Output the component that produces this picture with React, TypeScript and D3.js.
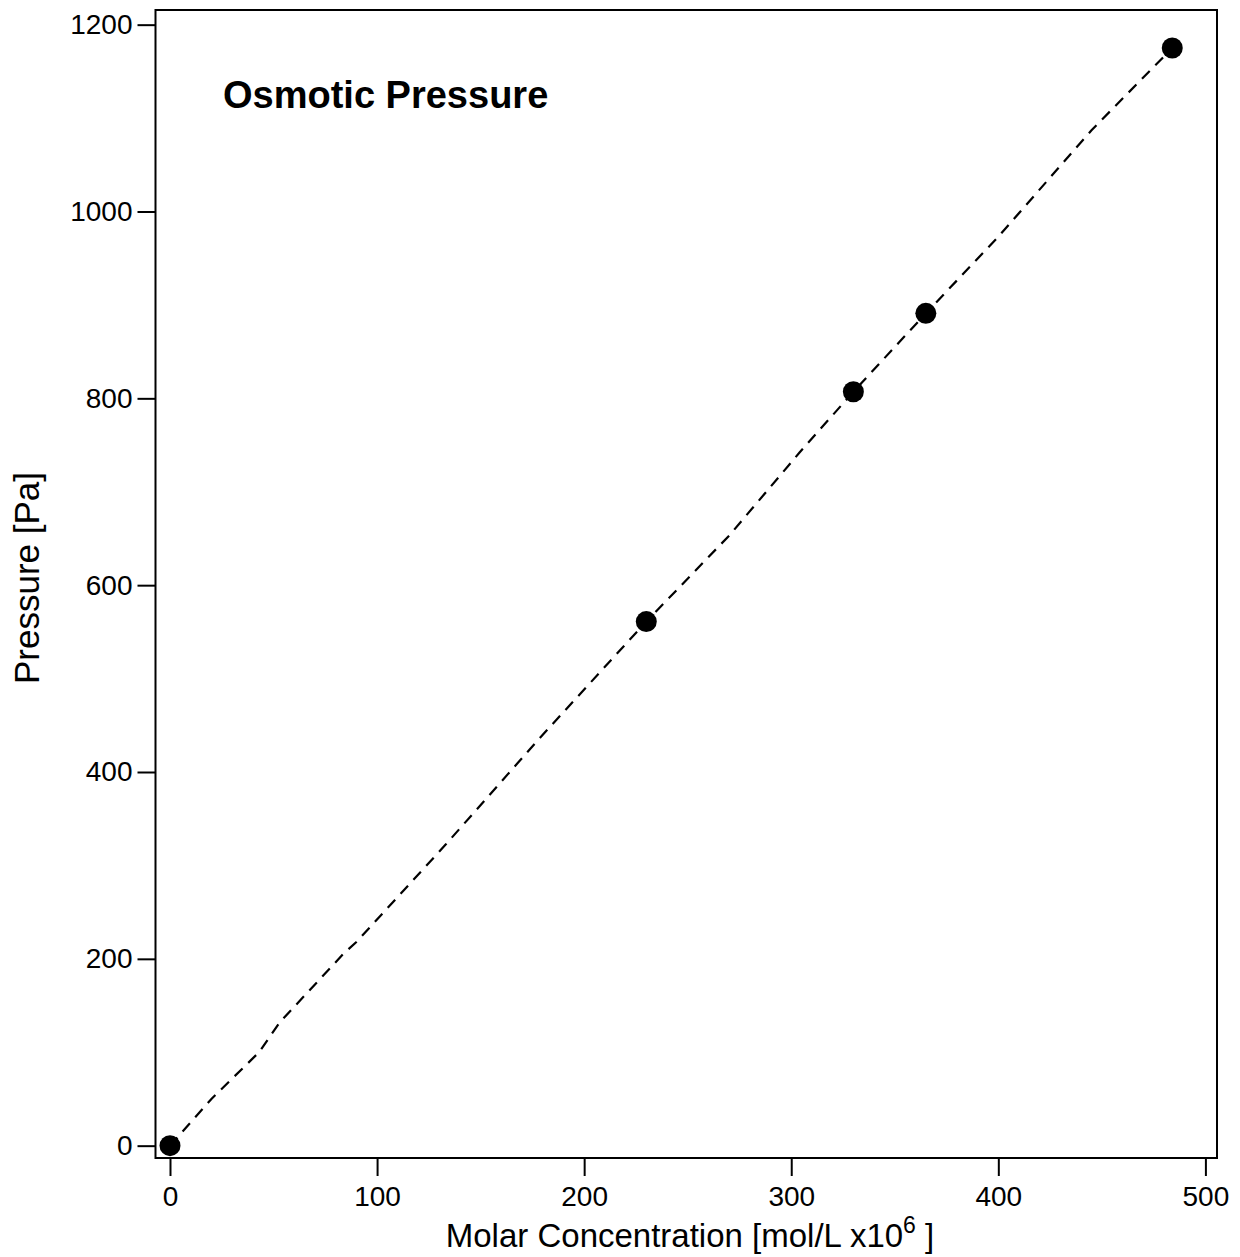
import React, { useRef, useEffect } from "react";
import * as d3 from "d3";

// measured concentrations [mol/L x10^6] and pressures [Pa]
const concentration = [0, 230, 330, 365, 484];
const pressure = [0, 561, 807, 891, 1175];

// dashed fit trace
const fitX = [0, 20, 43, 53, 84, 90, 133, 178, 230, 270, 304, 330, 365, 400, 445, 484];
const fitY = [0, 50, 100, 132, 206, 218, 322, 435, 561, 653, 742, 807, 891, 973, 1087, 1175];

const xTicks = [0, 100, 200, 300, 400, 500];
const yTicks = [0, 200, 400, 600, 800, 1000, 1200];

const FONT = "'Liberation Sans', Arial, Helvetica, sans-serif";

const App = () => {
  const svgRef = useRef<SVGSVGElement>(null);

  useEffect(() => {
    document.body.style.margin = "0";
    const width = 1240;
    const height = 1257;
    const left = 155.5, right = 1217, top = 10, bottom = 1158;

    const svg = d3.select(svgRef.current).attr("width", width).attr("height", height);
    svg.selectAll("*").remove();

    const x = d3.scaleLinear().domain([-7, 505.6]).range([left, right]);
    const y = d3.scaleLinear().domain([-13.2, 1215.7]).range([bottom, top]);

    // frame
    svg
      .append("rect")
      .attr("x", left)
      .attr("y", top)
      .attr("width", right - left)
      .attr("height", bottom - top)
      .attr("fill", "none")
      .attr("stroke", "#000")
      .attr("stroke-width", 2);

    // x axis
    const xAxis = svg
      .append("g")
      .attr("transform", `translate(0,${bottom})`)
      .call(d3.axisBottom(x).tickValues(xTicks).tickSize(18).tickPadding(10).tickFormat(d3.format("d")));
    xAxis.select(".domain").remove();
    xAxis.selectAll("line").attr("stroke", "#000").attr("stroke-width", 2);
    xAxis.selectAll("text").attr("font-family", FONT).attr("font-size", 28).attr("fill", "#000");

    // y axis
    const yAxis = svg
      .append("g")
      .attr("transform", `translate(${left},0)`)
      .call(d3.axisLeft(y).tickValues(yTicks).tickSize(18).tickPadding(5).tickFormat(d3.format("d")));
    yAxis.select(".domain").remove();
    yAxis.selectAll("line").attr("stroke", "#000").attr("stroke-width", 2);
    yAxis.selectAll("text").attr("font-family", FONT).attr("font-size", 28).attr("fill", "#000");

    // dashed fit line
    const line = d3
      .line<number>()
      .x((d) => x(d))
      .y((d, i) => y(fitY[i]));
    svg
      .append("path")
      .datum(fitX)
      .attr("d", line)
      .attr("fill", "none")
      .attr("stroke", "#000")
      .attr("stroke-width", 2.2)
      .attr("stroke-dasharray", "11,8");

    // data points
    svg
      .selectAll(".pt")
      .data(concentration)
      .enter()
      .append("circle")
      .attr("class", "pt")
      .attr("cx", (d) => x(d))
      .attr("cy", (d, i) => y(pressure[i]))
      .attr("r", 10.5)
      .attr("fill", "#000");

    // title inside plot
    svg
      .append("text")
      .attr("x", 223)
      .attr("y", 108)
      .attr("font-family", FONT)
      .attr("font-weight", "bold")
      .attr("font-size", 38)
      .text("Osmotic Pressure");

    // x title with superscript
    const xt = svg
      .append("text")
      .attr("x", 690)
      .attr("y", 1247)
      .attr("text-anchor", "middle")
      .attr("font-family", FONT)
      .attr("font-size", 33);
    xt.append("tspan").text("Molar Concentration [mol/L x10");
    xt.append("tspan").attr("font-size", 23).attr("dy", -14).text("6");
    xt.append("tspan").attr("dy", 14).text(" ]");

    // y title
    svg
      .append("text")
      .attr("transform", `translate(39,578) rotate(-90)`)
      .attr("text-anchor", "middle")
      .attr("font-family", FONT)
      .attr("font-size", 35)
      .text("Pressure [Pa]");
  }, []);

  return (
    <div>
      <svg ref={svgRef} style={{ display: "block" }}></svg>
    </div>
  );
};

export default App;
